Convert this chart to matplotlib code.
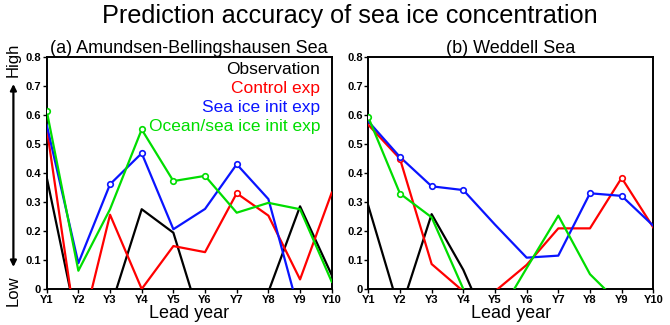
import numpy as np
import matplotlib.pyplot as plt

years = ["Y1", "Y2", "Y3", "Y4", "Y5", "Y6", "Y7", "Y8", "Y9", "Y10"]

# (a) Amundsen-Bellingshausen Sea
abs_obs = [0.385, -0.138, -0.07, 0.275, 0.194, -0.16, -0.2, -0.01, 0.285, 0.048]
abs_ctl = [0.555, -0.19, 0.256, 0.0, 0.148, 0.127, 0.33, 0.253, 0.033, 0.332]
abs_ice = [0.566, 0.089, 0.361, 0.468, 0.206, 0.276, 0.43, 0.31, -0.092, -0.05]
abs_ocn = [0.614, 0.063, 0.275, 0.55, 0.372, 0.39, 0.263, 0.297, 0.275, 0.025]

# (b) Weddell Sea
wed_obs = [0.287, -0.08, 0.258, 0.066, -0.184, -0.3, -0.3, -0.3, -0.3, -0.3]
wed_ctl = [0.566, 0.449, 0.086, -0.008, -0.008, 0.083, 0.209, 0.209, 0.383, 0.212]
wed_ice = [0.578, 0.455, 0.354, 0.341, 0.222, 0.108, 0.115, 0.33, 0.321, 0.218]
wed_ocn = [0.592, 0.329, 0.247, 0.0, -0.112, 0.072, 0.253, 0.051, -0.057, -0.1]

# indices of points drawn with open circles
abs_marks = {"ctl": [6], "ice": [2, 3, 6], "ocn": [0, 3, 4, 5]}
wed_marks = {"ctl": [1, 8], "ice": [1, 2, 3, 7, 8], "ocn": [0, 1]}

colors = {"obs": "black", "ctl": "#ff0000", "ice": "#0a14ff", "ocn": "#00dd00"}
names = {"obs": "Observation", "ctl": "Control exp", "ice": "Sea ice init exp",
         "ocn": "Ocean/sea ice init exp"}

plt.rcParams["font.family"] = ["Liberation Sans", "DejaVu Sans"]

fig = plt.figure(figsize=(6.7, 3.25), dpi=100)
fig.text(0.522, 0.952, "Prediction accuracy of sea ice concentration",
         ha="center", va="center", fontsize=18.2)

ax_a = fig.add_axes([0.0697, 0.1108, 0.4254, 0.714])
ax_b = fig.add_axes([0.5497, 0.1108, 0.4254, 0.714])

x = np.arange(len(years))


def draw(ax, series, marks, title):
    for key, vals in series:
        vals = np.array(vals)
        ax.plot(x, vals, color=colors[key], lw=1.6, zorder=3)
        idx = marks.get(key, [])
        if idx:
            ax.plot(x[idx], vals[idx], "o", ms=4, mfc="white",
                    mec=colors[key], mew=1.2, zorder=4)
    ax.set_xlim(0, 9)
    ax.set_ylim(0, 0.8)
    ax.set_xticks(x)
    ax.set_xticklabels(years, fontweight="bold", fontsize=8)
    yt = [0, 0.1, 0.2, 0.3, 0.4, 0.5, 0.6, 0.7, 0.8]
    ax.set_yticks(yt)
    ax.set_yticklabels(["0"] + [f"{v:.1f}" for v in yt[1:]],
                       fontweight="bold", fontsize=8)
    ax.tick_params(direction="out", length=3, width=1, pad=1)
    for s in ax.spines.values():
        s.set_linewidth(1.4)
    ax.set_title(title, fontsize=13, pad=2)
    ax.set_xlabel("Lead year", fontsize=13, labelpad=0)


draw(ax_a, [("obs", abs_obs), ("ctl", abs_ctl), ("ice", abs_ice), ("ocn", abs_ocn)],
     abs_marks, "(a) Amundsen-Bellingshausen Sea")
draw(ax_b, [("obs", wed_obs), ("ctl", wed_ctl), ("ice", wed_ice), ("ocn", wed_ocn)],
     wed_marks, "(b) Weddell Sea")

for i, key in enumerate(["obs", "ctl", "ice", "ocn"]):
    ax_a.text(0.959, 0.944 - i * 0.081, names[key], color=colors[key],
              transform=ax_a.transAxes, ha="right", va="center", fontsize=12.5)

# High / Low arrow on the left
fig.text(0.02, 0.815, "High", rotation=90, ha="center", va="center", fontsize=12)
fig.text(0.02, 0.105, "Low", rotation=90, ha="center", va="center", fontsize=12)
fig.patches.append(plt.matplotlib.patches.FancyArrowPatch(
    (0.02, 0.75), (0.02, 0.17), transform=fig.transFigure,
    arrowstyle="<|-|>", mutation_scale=9, lw=1.6, color="black"))

plt.savefig("out.png", dpi=100)
plt.close()
